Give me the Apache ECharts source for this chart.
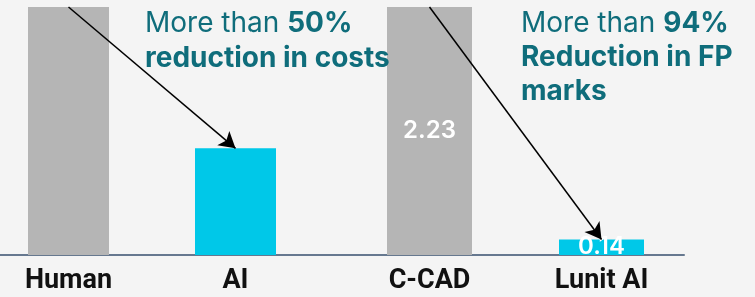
<!DOCTYPE html>
<html>
<head>
<meta charset="utf-8">
<script src="https://cdn.jsdelivr.net/npm/echarts@6/dist/echarts.min.js"></script>
<style>
  html, body { margin: 0; padding: 0; background: #f4f4f4; }
  #chart { width: 755px; height: 297px; }
</style>
</head>
<body>
<div id="chart"></div>
<script>
// ---- data ----
var costCategories = ['Human', 'AI'];
var costValues = [100, 43];
var fpCategories = ['C-CAD', 'Lunit AI'];
var fpValues = [2.23, 0.14];
var costNote = ['More than ', '50%', 'reduction in costs'];
var fpNote = ['More than ', '94%', 'Reduction in FP', 'marks'];

var GRAY = '#b5b5b5', CYAN = '#00c8e8', TEAL = '#0f6d7b';

function barData(values) {
  return values.map(function (v, i) {
    return { value: v, itemStyle: { color: i === 0 ? GRAY : CYAN } };
  });
}

function arrow(cats, vals) {
  return {
    silent: true,
    symbol: ['none', 'arrow'],
    symbolSize: [14, 16],
    lineStyle: { color: '#000', width: 1.5, type: 'solid' },
    label: { show: false },
    emphasis: { disabled: true },
    data: [[
      { coord: [cats[0], vals[0]] },
      { coord: [cats[1], vals[1]] }
    ]]
  };
}

var catLabel = {
  color: '#111',
  fontFamily: 'Roboto',
  fontWeight: 'bold',
  fontSize: 27,
  margin: 13
};

function noteRich(lh) {
  return {
    r: { fontFamily: 'Inter', fontSize: 28, fontWeight: 400, fill: TEAL, lineHeight: lh },
    b: { fontFamily: 'Inter', fontSize: 28, fontWeight: 700, fill: TEAL, lineHeight: lh }
  };
}

var chart = echarts.init(document.getElementById('chart'), null, { renderer: 'canvas' });
chart.setOption({
  backgroundColor: '#f4f4f4',
  animation: false,
  grid: [
    { left: -15, width: 334, top: 7, bottom: 42, outerBoundsMode: 'none', containLabel: false },
    { left: 343.5, width: 344, top: 7, bottom: 42, outerBoundsMode: 'none', containLabel: false },
    { left: 0, width: 684, top: 7, bottom: 42, outerBoundsMode: 'none', containLabel: false }
  ],
  xAxis: [
    { type: 'category', gridIndex: 0, data: costCategories,
      axisLine: { show: false }, axisTick: { show: false }, axisLabel: catLabel },
    { type: 'category', gridIndex: 1, data: fpCategories,
      axisLine: { show: false }, axisTick: { show: false }, axisLabel: catLabel },
    { type: 'value', gridIndex: 2, min: 0, max: 1, splitLine: { show: false },
      axisTick: { show: false }, axisLabel: { show: false },
      axisLine: { show: true, lineStyle: { color: '#66788f', width: 2 } } }
  ],
  yAxis: [
    { type: 'value', gridIndex: 0, min: 0, max: 100, show: false },
    { type: 'value', gridIndex: 1, min: 0, max: 2.23, show: false },
    { type: 'value', gridIndex: 2, min: 0, max: 1, show: false }
  ],
  series: [
    {
      type: 'bar', xAxisIndex: 0, yAxisIndex: 0, barWidth: 81,
      data: barData(costValues),
      silent: true,
      markLine: arrow(costCategories, costValues)
    },
    {
      type: 'bar', xAxisIndex: 1, yAxisIndex: 1, barWidth: 85,
      data: barData(fpValues),
      silent: true,
      label: {
        show: true, position: 'inside', color: '#fff',
        fontFamily: 'Inter', fontWeight: 600, fontSize: 24
      },
      markLine: arrow(fpCategories, fpValues)
    }
  ],
  graphic: [
    {
      type: 'text', left: 145, top: 10, z: 10,
      style: {
        text: '{r|' + costNote[0] + '}{b|' + costNote[1] + '}\n{b|' + costNote[2] + '}',
        rich: noteRich(35)
      }
    },
    {
      type: 'text', left: 521, top: 10, z: 10,
      style: {
        text: '{r|' + fpNote[0] + '}{b|' + fpNote[1] + '}\n{b|' + fpNote[2] + '}\n{b|' + fpNote[3] + '}',
        rich: noteRich(34)
      }
    }
  ]
});
</script>
</body>
</html>
